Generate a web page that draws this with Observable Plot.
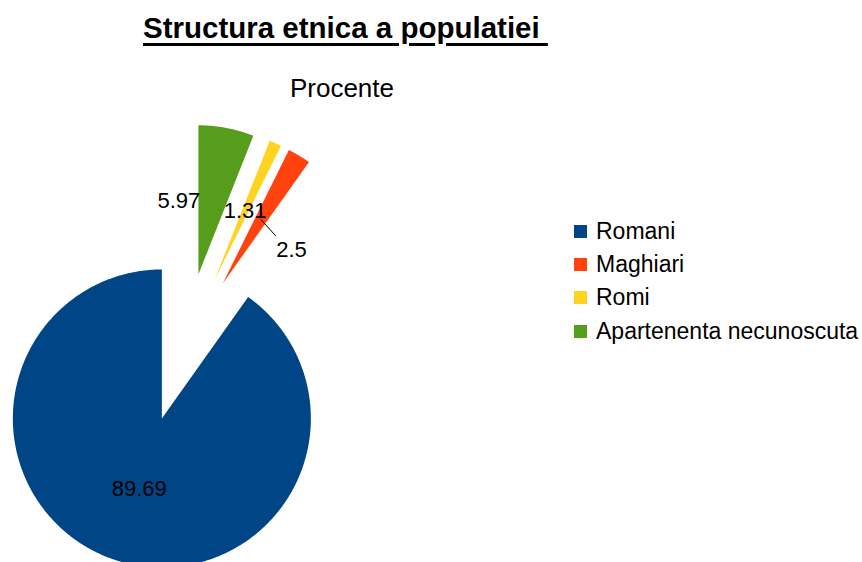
<!DOCTYPE html>
<html>
<head>
<meta charset="utf-8">
<script src="https://cdn.jsdelivr.net/npm/d3@7"></script>
<script src="https://cdn.jsdelivr.net/npm/@observablehq/plot@0.6"></script>
<style>
  body { margin: 0; background: #fff; font-family: "Liberation Sans", Arial, sans-serif; }
  #wrap { position: relative; width: 862px; height: 562px; overflow: hidden; background: #fff; }
  #chart { position: absolute; left: 0; top: 0; }
  #title { position: absolute; left: 143px; top: 13px; font-size: 29.5px; line-height: 29px; font-weight: bold; text-decoration: underline; text-decoration-thickness: 3px; text-underline-offset: 5px; white-space: pre; color: #000; }
  #subtitle { position: absolute; left: 0; width: 684px; text-align: center; top: 75px; font-size: 26px; line-height: 26px; color: #000; }
  #legend { position: absolute; left: 574px; top: 215px; }
  .row { display: flex; align-items: center; height: 33.2px; font-size: 23px; color: #000; white-space: nowrap; }
  .sw { width: 13px; height: 13px; margin-right: 9px; flex: none; }
</style>
</head>
<body>
<div id="wrap">
  <div id="chart"></div>
  <div id="title"></div>
  <div id="subtitle"></div>
  <div id="legend"></div>
</div>
<script>
const titleText = "Structura etnica a populatiei ";
const subtitleText = "Procente";
const categories = ["Romani", "Maghiari", "Romi", "Apartenenta necunoscuta"];
const values = [89.69, 2.5, 1.31, 5.97];
const colors = ["#004586", "#ff420e", "#ffd320", "#579d1c"];

// layout constants (pixels)
const W = 862, H = 562, CX = 184, CY = 347, R = 149, EXPLODE = 0.5;
const labelShiftPx = { "Apartenenta necunoscuta": [-33.5, 0], "Maghiari": [30.5, 30.5] };
const leaderEndPx = [-15.5, -14];

document.getElementById("title").textContent = titleText;
document.getElementById("subtitle").textContent = subtitleText;
const legend = document.getElementById("legend");
categories.forEach((c, i) => {
  const row = document.createElement("div");
  row.className = "row";
  const sw = document.createElement("span");
  sw.className = "sw";
  sw.style.background = colors[i];
  row.appendChild(sw);
  row.appendChild(document.createTextNode(c));
  legend.appendChild(row);
});

const total = d3.sum(values);
let cum = 0;
const slices = categories.map((name, i) => {
  const a1 = 360 - (cum / total) * 360;
  cum += values[i];
  const a0 = 360 - (cum / total) * 360;
  const mid = ((a0 + a1) / 2) * Math.PI / 180;
  return { name, value: values[i], a0, a1, mid, vx: EXPLODE * Math.sin(mid), vy: EXPLODE * Math.cos(mid) };
});

const poly = [];
for (const s of slices) {
  poly.push({ name: s.name, x: s.vx, y: s.vy });
  const n = Math.max(4, Math.ceil((s.a1 - s.a0) * 2));
  for (let k = 0; k <= n; k++) {
    const t = (s.a0 + (s.a1 - s.a0) * k / n) * Math.PI / 180;
    poly.push({ name: s.name, x: s.vx + Math.sin(t), y: s.vy + Math.cos(t) });
  }
  poly.push({ name: s.name, x: s.vx, y: s.vy });
}

const labels = slices.map(s => {
  const nx = s.vx + 0.5 * Math.sin(s.mid), ny = s.vy + 0.5 * Math.cos(s.mid);
  const sh = labelShiftPx[s.name] || [0, 0];
  return { name: s.name, text: String(s.value), nx, ny, x: nx + sh[0] / R, y: ny - sh[1] / R, moved: sh[1] !== 0 };
});
const leaders = labels.filter(d => d.moved).map(d => ({
  x1: d.nx, y1: d.ny, x2: d.x + leaderEndPx[0] / R, y2: d.y - leaderEndPx[1] / R
}));

const chart = Plot.plot({
  width: W, height: H, margin: 0,
  style: { fontFamily: "'Liberation Sans', Arial, sans-serif", background: "transparent" },
  x: { domain: [-CX / R, (W - CX) / R], range: [0, W], axis: null },
  y: { domain: [CY / R, (CY - H) / R], range: [0, H], axis: null },
  color: { domain: categories, range: colors },
  marks: [
    Plot.line(poly, { x: "x", y: "y", z: "name", fill: "name", stroke: null, curve: "linear" }),
    Plot.link(leaders, { x1: "x1", y1: "y1", x2: "x2", y2: "y2", stroke: "#000", strokeWidth: 1 }),
    Plot.text(labels, { x: "x", y: "y", text: "text", fontSize: 22, fill: "#000" })
  ]
});
document.getElementById("chart").appendChild(chart);
</script>
</body>
</html>
